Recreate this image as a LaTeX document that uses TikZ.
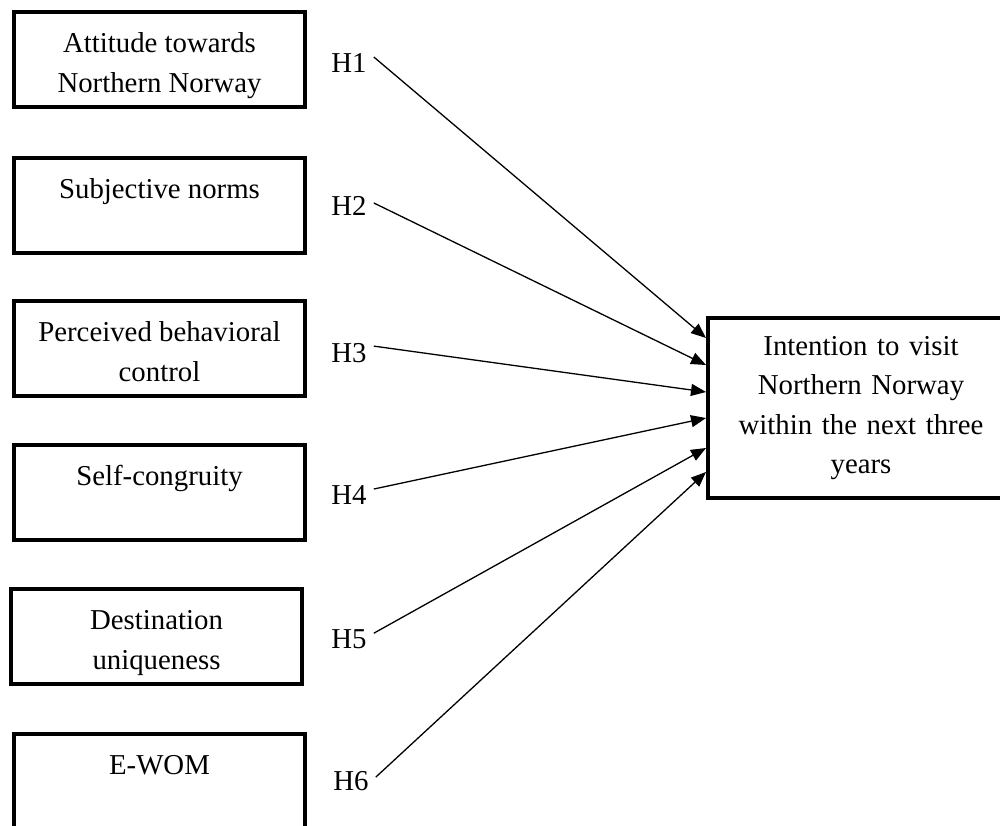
\documentclass[tikz,border=0pt]{standalone}
\usepackage{fontspec}
\setmainfont{Liberation Serif}
\usetikzlibrary{arrows.meta}
\newcommand{\toptxt}[1]{\parbox[c][89pt][t]{280pt}{\centering\vspace*{10.3pt}\strut #1}}
\begin{document}
\begin{tikzpicture}[x=1pt,y=-1pt,>={Triangle[length=15pt,width=12pt]},
	every node/.style={font=\fontsize{28.8}{39.5}\selectfont},
	box/.style={draw,line width=4pt,minimum width=291pt,minimum height=95pt,inner sep=0pt},
	hyp/.style={anchor=base,inner xsep=7pt,inner ysep=0pt}]
	\useasboundingbox (0,0) rectangle (1000,825);
	% left boxes
	\node[box] (att) at (159.5,59.5) {\toptxt{Attitude towards\\Northern Norway}};
	\node[box] (sn) at (159.5,205) {\toptxt{Subjective norms}};
	\node[box] (pbc) at (159.5,348.5) {\toptxt{Perceived behavioral\\control}};
	\node[box] (sc) at (159.5,492.5) {\toptxt{Self-congruity}};
	\node[box] (du) at (156.5,636.5) {\toptxt{Destination\\uniqueness}};
	\node[box] (ewom) at (159.5,781.5) {\toptxt{E-WOM}};
	% right box
	\node[box,minimum width=306pt,minimum height=180pt,text width=290pt,align=center] (intent) at (861,408)
		{Intention to visit\\Northern Norway\\within the next three\\years};
	% hypotheses
	\node[hyp] (h1) at (349,72) {H1};
	\node[hyp] (h2) at (349,215) {H2};
	\node[hyp] (h3) at (349,362) {H3};
	\node[hyp] (h4) at (349,504) {H4};
	\node[hyp] (h5) at (349,648) {H5};
	\node[hyp] (h6) at (351,790) {H6};
	\foreach \h/\up/\dn in {h1/5.5/22,h2/2.5/49,h3/6.5/76,h4/5.5/102,h5/5.5/132,h6/3.5/156}
		\draw[->,line width=1.3pt] ([yshift=\up pt]\h.east) -- ([yshift=-\dn pt]intent.north west);
\end{tikzpicture}
\end{document}
